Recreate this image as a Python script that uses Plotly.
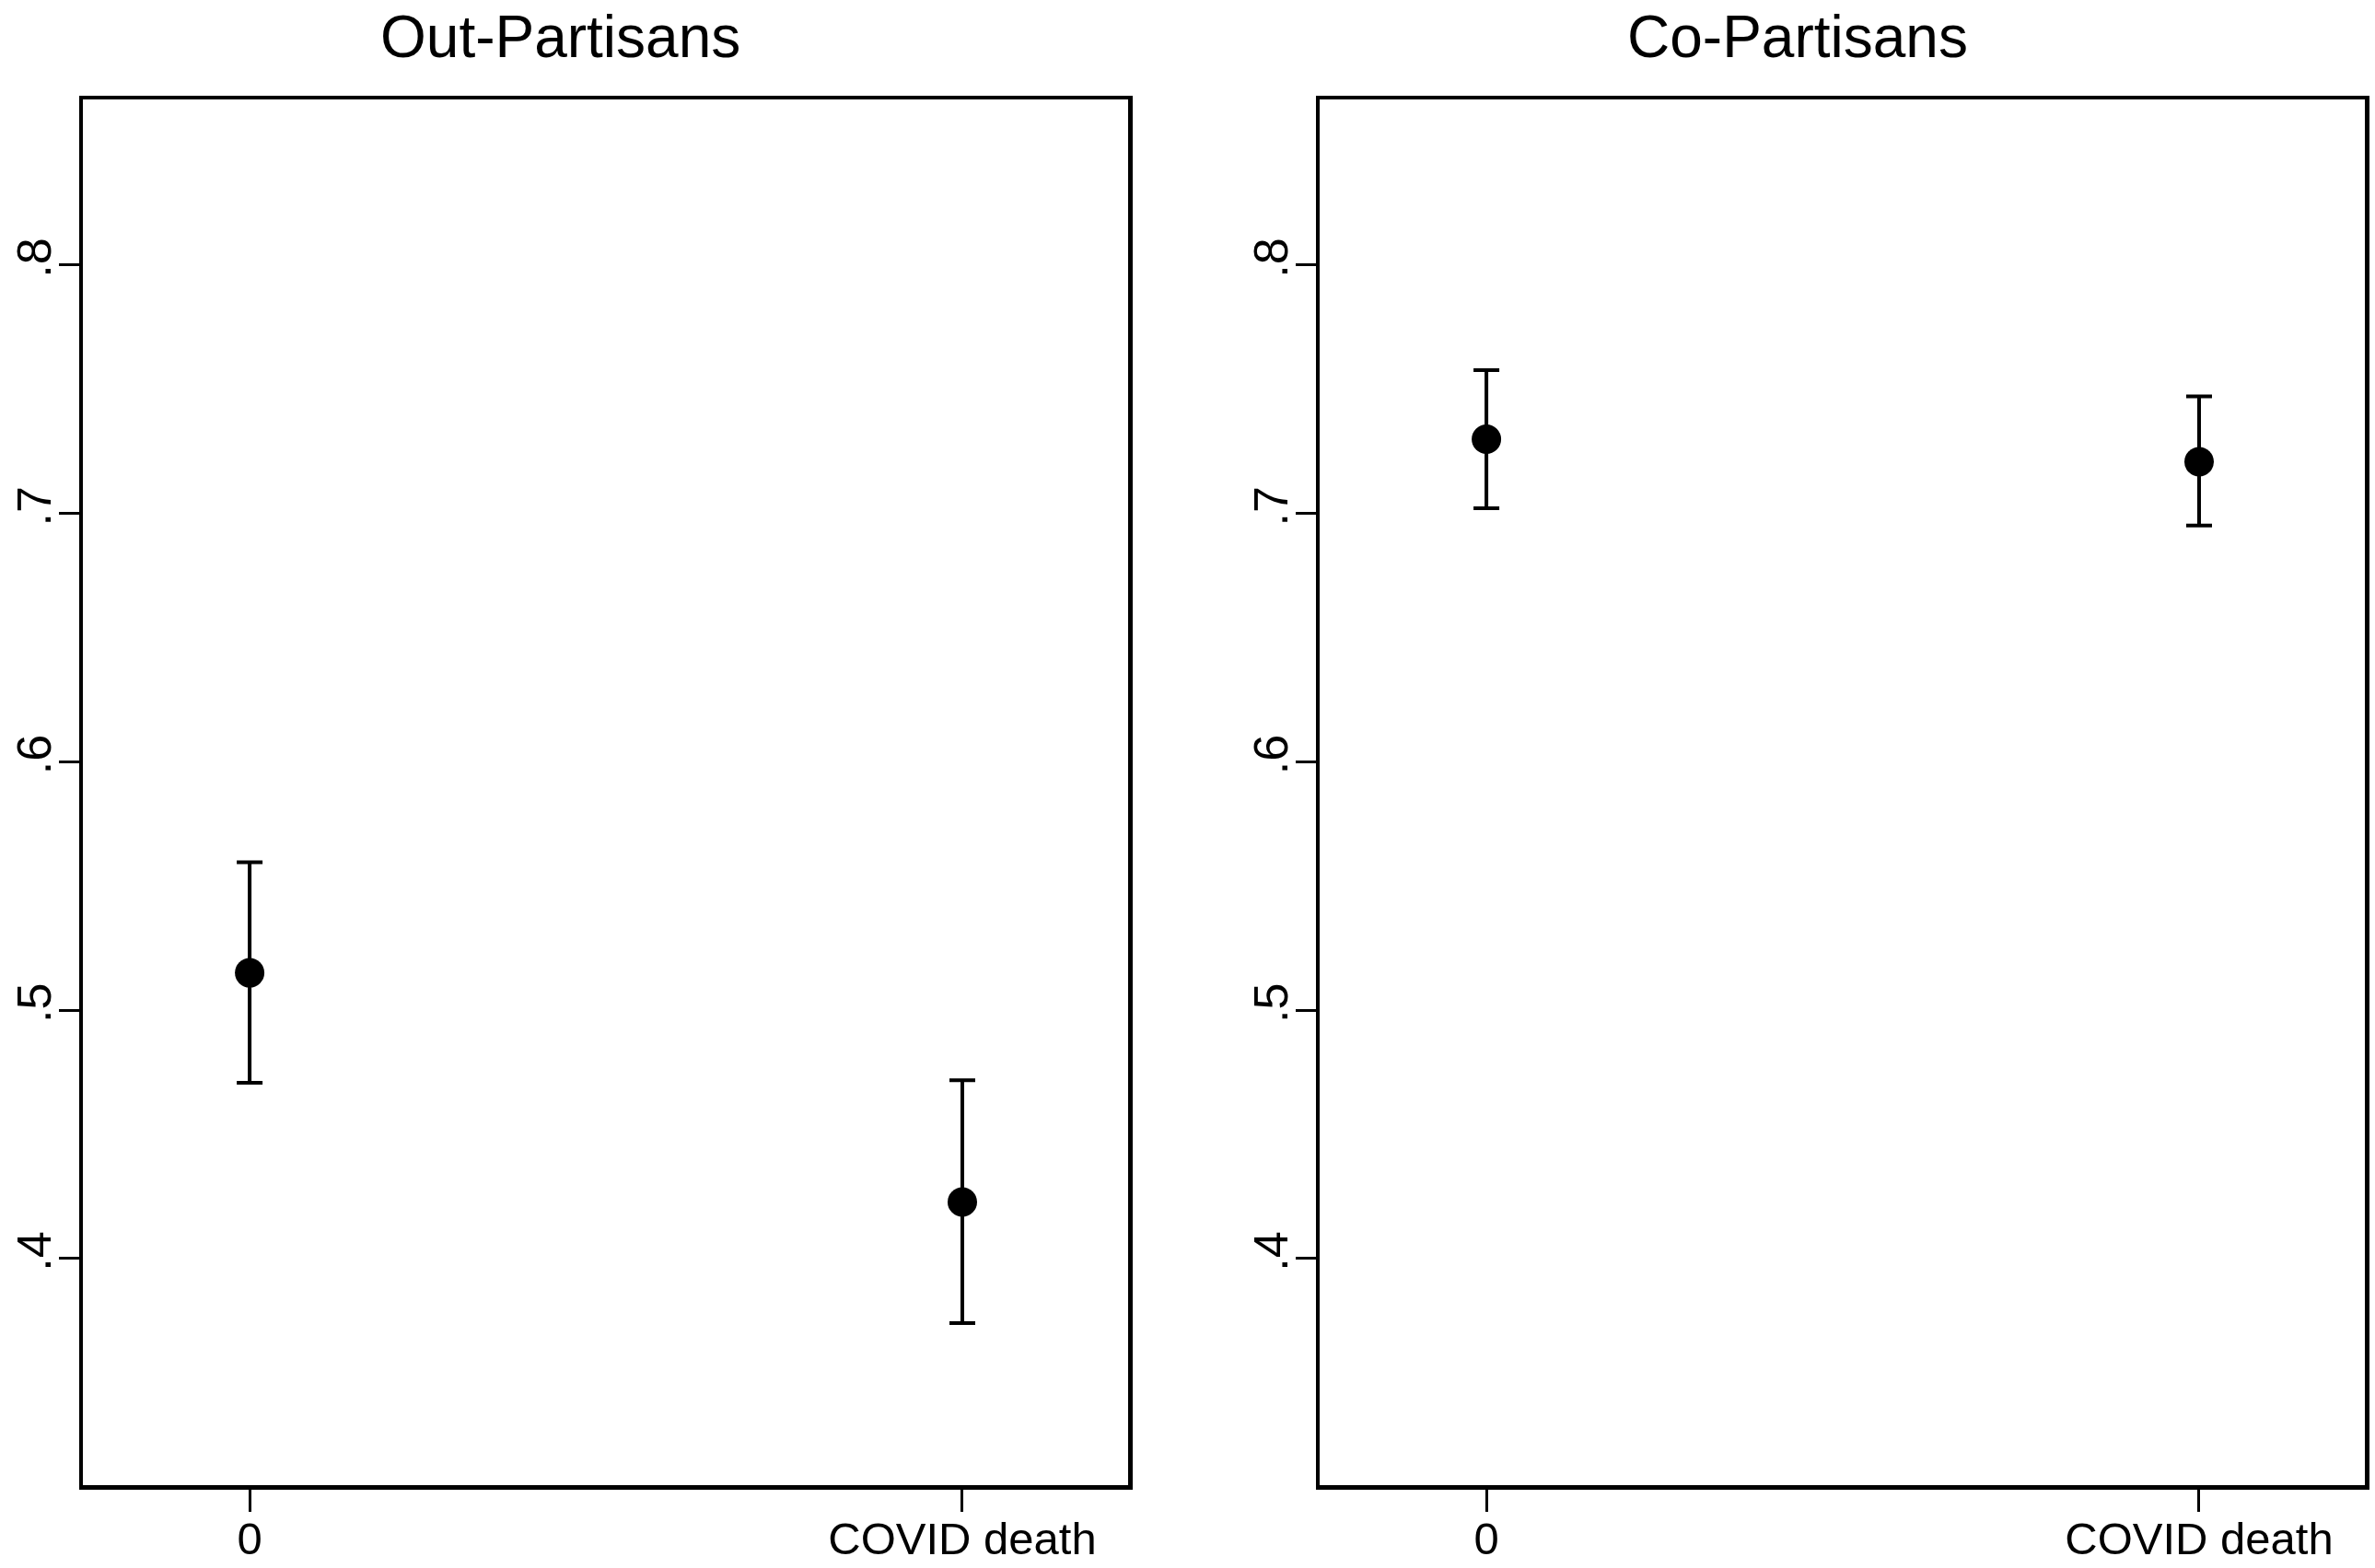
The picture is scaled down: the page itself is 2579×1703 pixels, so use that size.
import plotly.graph_objects as go
from plotly.subplots import make_subplots

# ---- data ----
categories = [0, 1]
category_labels = ["0", "COVID death"]
panel_titles = ["Out-Partisans", "Co-Partisans"]

out_est = [0.515, 0.4227]
out_lo = [0.4707, 0.3740]
out_hi = [0.5595, 0.4717]

co_est = [0.7299, 0.7208]
co_lo = [0.7021, 0.6951]
co_hi = [0.7577, 0.7471]

y_tickvals = [0.4, 0.5, 0.6, 0.7, 0.8]
y_ticktext = [".4", ".5", ".6", ".7", ".8"]

W, H = 2579, 1703
FONT = "Liberation Sans, Arial, Helvetica, sans-serif"

fig = make_subplots(rows=1, cols=2)

series = [(out_est, out_lo, out_hi), (co_est, co_lo, co_hi)]
for i, (est, lo, hi) in enumerate(series):
    fig.add_trace(
        go.Scatter(
            x=categories,
            y=est,
            mode="markers",
            marker=dict(color="black", size=32, symbol="circle"),
            error_y=dict(
                type="data",
                symmetric=False,
                array=[h - e for h, e in zip(hi, est)],
                arrayminus=[e - l for e, l in zip(est, lo)],
                color="black",
                thickness=4,
                width=14,
            ),
            showlegend=False,
            hoverinfo="skip",
        ),
        row=1, col=i + 1,
    )

# plot-area pixel boxes
x_boxes = [(90, 1225), (1433, 2568)]
y_top, y_bot = 108, 1613

for i, (x0, x1) in enumerate(x_boxes):
    xa = "xaxis" if i == 0 else "xaxis2"
    ya = "yaxis" if i == 0 else "yaxis2"
    fig.layout[xa].update(
        domain=[x0 / W, x1 / W],
        range=[-0.234, 1.2326],
        tickmode="array",
        tickvals=categories,
        ticktext=category_labels,
        ticks="outside",
        ticklen=24,
        tickwidth=3,
        tickcolor="black",
        ticklabelstandoff=-12,
        showline=True,
        linecolor="black",
        linewidth=4.5,
        mirror=True,
        showgrid=False,
        zeroline=False,
        tickfont=dict(family=FONT, size=49, color="black"),
    )
    fig.layout[ya].update(
        domain=[1 - y_bot / H, 1 - y_top / H],
        range=[0.3087, 0.8667],
        tickmode="array",
        tickvals=y_tickvals,
        ticktext=y_ticktext,
        tickangle=-90,
        ticks="outside",
        ticklen=22,
        tickwidth=3,
        tickcolor="black",
        ticklabelstandoff=-12,
        showline=True,
        linecolor="black",
        linewidth=4.5,
        mirror=True,
        showgrid=False,
        zeroline=False,
        tickfont=dict(family=FONT, size=52, color="black"),
    )

title_x = [608, 1952]
for t, xp in zip(panel_titles, title_x):
    fig.add_annotation(
        text=t,
        x=xp / W,
        y=1 - 40 / H,
        xref="paper",
        yref="paper",
        xanchor="center",
        yanchor="middle",
        showarrow=False,
        font=dict(family=FONT, size=64, color="black"),
    )

fig.update_layout(
    width=W,
    height=H,
    margin=dict(l=0, r=0, t=0, b=0, autoexpand=False),
    paper_bgcolor="white",
    plot_bgcolor="white",
)

fig.write_html(
    "out.html",
    config={"displayModeBar": False, "staticPlot": True},
    post_script="document.body.style.margin='0';document.body.style.overflow='hidden';",
)
